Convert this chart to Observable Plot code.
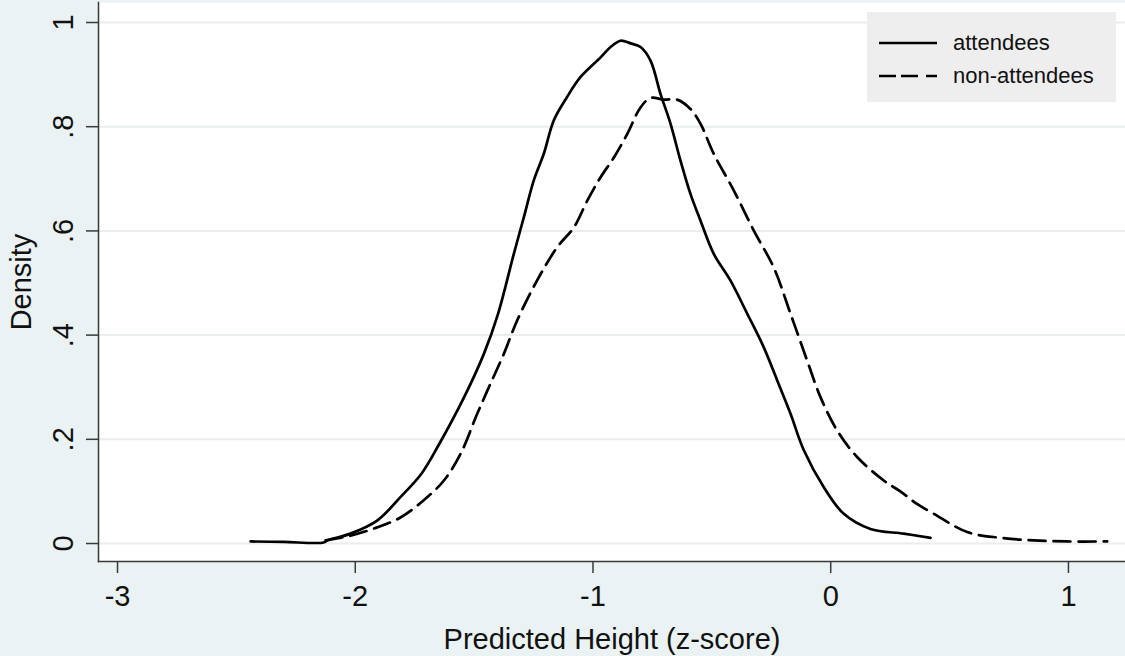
<!DOCTYPE html>
<html>
<head>
<meta charset="utf-8">
<script src="https://cdn.jsdelivr.net/npm/d3@7"></script>
<script src="https://cdn.jsdelivr.net/npm/@observablehq/plot@0.6"></script>
<style>
  html, body { margin: 0; padding: 0; background: #eaf2f3; }
  #wrap { position: relative; width: 1125px; height: 656px; background: #eaf2f3; font-family: "Liberation Sans", Arial, sans-serif; }
  #legend { position: absolute; left: 867px; top: 12px; width: 249px; height: 90px; background: #eeeeee; }
  #legend .row { position: absolute; left: 0; height: 30px; display: flex; align-items: center; }
  #legend svg { margin-left: 12px; }
  #legend span { margin-left: 16px; font-size: 22px; color: #111; }
</style>
</head>
<body>
<div id="wrap">
  <div id="chart"></div>
  <div id="legend"></div>
</div>
<script>
// ---- data ----
const seriesNames = ["attendees", "non-attendees"];

const attendeesX = [-2.44, -2.30, -2.133, -2.118, -2.02, -1.908, -1.81, -1.72, -1.648, -1.543, -1.459, -1.40, -1.333,
  -1.291, -1.249, -1.207, -1.165, -1.109, -1.053, -0.968, -0.926, -0.884, -0.842, -0.80, -0.758, -0.716,
  -0.674, -0.632, -0.59, -0.548, -0.492, -0.422, -0.351, -0.282, -0.225, -0.169, -0.113, -0.029, 0.055,
  0.167, 0.307, 0.42];
const attendeesY = [0.004, 0.003, 0.002, 0.006, 0.019, 0.044, 0.089, 0.135, 0.190, 0.280, 0.364, 0.44, 0.556,
  0.626, 0.697, 0.748, 0.812, 0.857, 0.895, 0.933, 0.953, 0.965, 0.960, 0.953, 0.927, 0.863,
  0.806, 0.735, 0.671, 0.620, 0.556, 0.505, 0.441, 0.377, 0.313, 0.249, 0.179, 0.108, 0.057,
  0.028, 0.019, 0.011];

const nonAttendeesX = [-2.125, -2.02, -1.908, -1.81, -1.712, -1.627, -1.557, -1.487, -1.431, -1.375, -1.319, -1.235,
  -1.15, -1.08, -1.024, -0.968, -0.912, -0.856, -0.80, -0.758, -0.702, -0.646, -0.59, -0.548, -0.492,
  -0.408, -0.324, -0.24, -0.169, -0.099, -0.043, 0.027, 0.111, 0.223, 0.293, 0.363, 0.434, 0.574,
  0.714, 0.854, 0.994, 1.163];
const nonAttendeesY = [0.006, 0.015, 0.031, 0.050, 0.083, 0.121, 0.172, 0.249, 0.307, 0.364, 0.428, 0.505,
  0.569, 0.607, 0.658, 0.703, 0.741, 0.786, 0.837, 0.855, 0.852, 0.852, 0.834, 0.806, 0.748,
  0.678, 0.601, 0.530, 0.441, 0.351, 0.281, 0.217, 0.166, 0.121, 0.100, 0.076, 0.057, 0.022,
  0.011, 0.006, 0.004, 0.004];

const xTicks = [-3, -2, -1, 0, 1];
const xTickLabels = ["-3", "-2", "-1", "0", "1"];
const yTicks = [0, 0.2, 0.4, 0.6, 0.8, 1];
const yTickLabels = ["0", ".2", ".4", ".6", ".8", "1"];
const xTitle = "Predicted Height (z-score)";
const yTitle = "Density";

// ---- build tables ----
const rows = [
  ...attendeesX.map((x, i) => ({series: seriesNames[0], x, y: attendeesY[i]})),
  ...nonAttendeesX.map((x, i) => ({series: seriesNames[1], x, y: nonAttendeesY[i]}))
];
const xLabelOf = new Map(xTicks.map((t, i) => [t, xTickLabels[i]]));
const yTickRows = yTicks.map((t, i) => ({v: t, label: yTickLabels[i]}));

const font = "Liberation Sans, Arial, sans-serif";
const axisColor = "#3a3a3a";

const chart = Plot.plot({
  width: 1125,
  height: 656,
  marginLeft: 98,
  marginRight: 0,
  marginTop: 2,
  marginBottom: 95,
  style: {background: "transparent", fontFamily: font},
  x: {domain: [-3.08, 1.24], label: null},
  y: {domain: [-0.0345, 1.0384], label: null},
  marks: [
    Plot.frame({fill: "white", stroke: null}),
    Plot.gridY(yTicks, {stroke: "#e9eded", strokeOpacity: 1, strokeWidth: 2}),
    Plot.frame({anchor: "left", stroke: axisColor, strokeWidth: 1.5}),
    Plot.frame({anchor: "bottom", stroke: axisColor, strokeWidth: 1.5}),
    Plot.axisX({ticks: xTicks, tickFormat: d => xLabelOf.get(d), tickSize: 12, tickPadding: 12,
      fontSize: 29, stroke: axisColor, strokeWidth: 1.5, fill: "#111", label: null}),
    Plot.axisY({ticks: yTicks, tickFormat: () => "", tickSize: 12, stroke: axisColor, strokeWidth: 1.5, label: null}),
    Plot.text(yTickRows, {y: "v", text: "label", frameAnchor: "left", dx: -35, rotate: -90,
      textAnchor: "middle", lineAnchor: "middle", fontSize: 29, fill: "#111"}),
    Plot.text([yTitle], {text: d => d, frameAnchor: "left", dx: -77, rotate: -90,
      textAnchor: "middle", lineAnchor: "middle", fontSize: 29, fill: "#111"}),
    Plot.text([xTitle], {text: d => d, frameAnchor: "bottom", dy: 78,
      textAnchor: "middle", lineAnchor: "middle", fontSize: 29, fill: "#111"}),
    Plot.line(rows.filter(d => d.series === seriesNames[0]), {x: "x", y: "y", stroke: "black",
      strokeWidth: 2.7, curve: "catmull-rom"}),
    Plot.line(rows.filter(d => d.series === seriesNames[1]), {x: "x", y: "y", stroke: "black",
      strokeWidth: 2.7, strokeDasharray: "17,8", curve: "catmull-rom"})
  ]
});
document.getElementById("chart").appendChild(chart);

// ---- legend ----
const legend = document.getElementById("legend");
const dashes = [null, "17,5,17,8"];
seriesNames.forEach((name, i) => {
  const row = document.createElement("div");
  row.className = "row";
  row.style.top = (16 + i * 33) + "px";
  const svg = document.createElementNS("http://www.w3.org/2000/svg", "svg");
  svg.setAttribute("width", "58");
  svg.setAttribute("height", "10");
  const ln = document.createElementNS("http://www.w3.org/2000/svg", "line");
  ln.setAttribute("x1", "0"); ln.setAttribute("x2", "58");
  ln.setAttribute("y1", "5"); ln.setAttribute("y2", "5");
  ln.setAttribute("stroke", "black"); ln.setAttribute("stroke-width", "2.7");
  if (dashes[i]) ln.setAttribute("stroke-dasharray", dashes[i]);
  svg.appendChild(ln);
  const sp = document.createElement("span");
  sp.textContent = name;
  row.appendChild(svg);
  row.appendChild(sp);
  legend.appendChild(row);
});
</script>
</body>
</html>
